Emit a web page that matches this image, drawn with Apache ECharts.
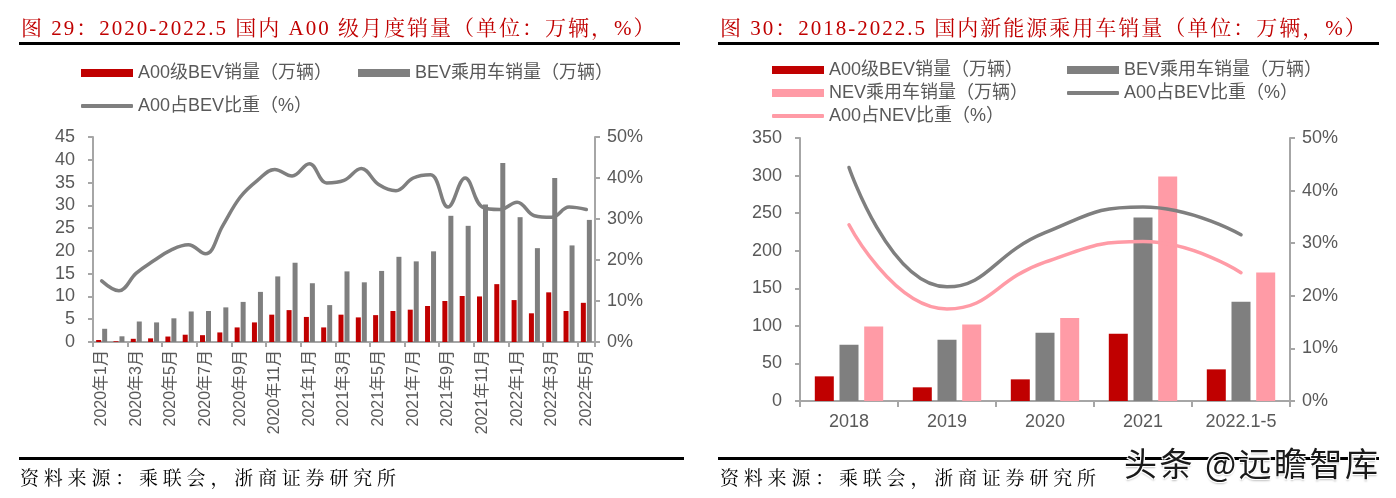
<!DOCTYPE html>
<html>
<head>
<meta charset="utf-8">
<script src="https://cdn.jsdelivr.net/npm/echarts@6/dist/echarts.min.js"></script>
<style>
  html, body { margin: 0; padding: 0; background: #fff; }
  #page { position: relative; width: 1396px; height: 498px; overflow: hidden; background: #fff; }
  .chart { position: absolute; top: 0; height: 498px; }
  .title { position: absolute; top: 15px; font-family: 'Liberation Serif', 'Noto Serif CJK SC', 'Noto Sans CJK SC', serif; font-size: 21px; line-height: 26px; color: #C00000; letter-spacing: 2px; white-space: nowrap; }
  .rule { position: absolute; height: 3px; background: #000; }
  .source { position: absolute; top: 464px; font-family: 'Noto Serif CJK SC', 'Noto Sans CJK SC', serif; font-size: 19px; line-height: 26px; color: #000; letter-spacing: 4.8px; white-space: nowrap; }
  .mark { position: absolute; left: 1124px; top: 440px; font-family: 'Noto Sans CJK SC', sans-serif; font-size: 33px; line-height: 44px; color: #1a1a1a; white-space: nowrap; letter-spacing: 2.5px;
          text-shadow: 1px 1px 0 #fff, -1px -1px 0 #fff, 1px -1px 0 #fff, -1px 1px 0 #fff, 0 2px 2px rgba(0,0,0,0.25); }
</style>
</head>
<body>
<div id="page">
  <div id="c1" class="chart" style="left:0;width:700px;"></div>
  <div id="c2" class="chart" style="left:700px;width:696px;"></div>
  <div class="title" style="left:21px;">图 29：2020-2022.5 国内 A00 级月度销量（单位：万辆，%）</div>
  <div class="rule" style="left:19px;width:661px;top:42px;"></div>
  <div class="title" style="left:720px;">图 30：2018-2022.5 国内新能源乘用车销量（单位：万辆，%）</div>
  <div class="rule" style="left:718px;width:661px;top:42px;"></div>
  <div class="rule" style="left:19px;width:665px;top:457px;"></div>
  <div class="rule" style="left:718px;width:661px;top:457px;"></div>
  <div class="source" style="left:20px;">资料来源：乘联会，浙商证券研究所</div>
  <div class="source" style="left:720px;">资料来源：乘联会，浙商证券研究所</div>
  <div class="mark">头条 @远瞻智库</div>
</div>
<script>
// ---------- Figure 29 data (monthly) ----------
const months = [
  '2020年1月','2020年2月','2020年3月','2020年4月','2020年5月','2020年6月','2020年7月','2020年8月',
  '2020年9月','2020年10月','2020年11月','2020年12月',
  '2021年1月','2021年2月','2021年3月','2021年4月','2021年5月','2021年6月','2021年7月','2021年8月',
  '2021年9月','2021年10月','2021年11月','2021年12月',
  '2022年1月','2022年2月','2022年3月','2022年4月','2022年5月'
];
const a00Monthly = [0.44, 0.16, 0.7, 0.8, 1.2, 1.6, 1.5, 2.1, 3.2, 4.3, 6.0, 7.0,
                    5.5, 3.2, 6.0, 5.4, 5.9, 6.8, 7.1, 7.9, 9.0, 10.1, 10.0, 12.7,
                    9.2, 6.3, 10.9, 6.8, 8.6];
const bevMonthly = [2.9, 1.25, 4.5, 4.3, 5.2, 6.7, 6.8, 7.6, 8.8, 11.0, 14.4, 17.4,
                    12.9, 8.1, 15.5, 13.1, 15.6, 18.7, 17.7, 19.9, 27.7, 25.5, 30.2, 39.3,
                    27.4, 20.6, 36.0, 21.2, 26.8];
const shareMonthly = [14.9, 12.5, 16.8, 19.8, 22.4, 23.7, 21.5, 28.4, 35.3, 39.4, 42.1, 40.5,
                      43.5, 38.8, 39.4, 42.3, 38.4, 36.9, 40.0, 40.8, 32.9, 40.0, 32.9, 32.3,
                      34.1, 30.8, 30.4, 32.9, 32.3];

// ---------- Figure 30 data (yearly) ----------
const years = ['2018', '2019', '2020', '2021', '2022.1-5'];
const a00Yearly = [32.8, 18.2, 28.8, 89.5, 42.1];
const bevYearly = [74.9, 81.5, 90.8, 244.1, 132.0];
const nevYearly = [99.2, 101.9, 110.3, 298.6, 171.0];
const shareBevYearly = [44.4, 21.7, 32.0, 36.9, 31.6];
const shareNevYearly = [33.5, 17.5, 26.4, 30.3, 24.4];

// ---------- names ----------
const N_A00 = 'A00级BEV销量（万辆）';
const N_BEV = 'BEV乘用车销量（万辆）';
const N_NEV = 'NEV乘用车销量（万辆）';
const N_SBEV = 'A00占BEV比重（%）';
const N_SNEV = 'A00占NEV比重（%）';

const RED = '#C00000', GRAY = '#7F7F7F', PINK = '#FF9BA6';
const AXIS = '#A6A6A6', TXT = '#595959';
const FONT = "'Liberation Sans', Arial, 'Noto Sans CJK SC', sans-serif";

function legendItem(name, left, cy, isLine) {
  const h = isLine ? 4 : 8;
  return {
    show: true, left: left, top: cy - 7, orient: 'horizontal', padding: 0,
    itemWidth: 52, itemHeight: h,
    data: [{ name: name, icon: isLine ? 'roundRect' : 'rect' }],
    textStyle: { fontFamily: FONT, fontSize: 18, color: TXT },
    selectedMode: false
  };
}

function valAxis(pos, max, interval, fmt, margin) {
  return {
    type: 'value', position: pos, min: 0, max: max, interval: interval,
    axisLine: { show: true, lineStyle: { color: AXIS, width: 2 } },
    axisTick: { show: true, length: 5, lineStyle: { color: AXIS, width: 2 } },
    splitLine: { show: false },
    axisLabel: { color: TXT, fontFamily: FONT, fontSize: 18, margin: margin, formatter: fmt }
  };
}

// ---------- chart 1 ----------
const c1 = echarts.init(document.getElementById('c1'));
c1.setOption({
  animation: false,
  legend: [
    legendItem(N_A00, 81, 71, false),
    legendItem(N_BEV, 358, 71, false),
    legendItem(N_SBEV, 81, 104, true)
  ],
  grid: { left: 93, top: 137, width: 502, height: 205 },
  xAxis: {
    type: 'category', data: months, boundaryGap: true,
    axisLine: { lineStyle: { color: AXIS, width: 2 } },
    axisTick: { show: true, interval: 1, length: 5, alignWithLabel: false, lineStyle: { color: AXIS, width: 2 } },
    axisLabel: { interval: 1, rotate: 90, color: TXT, fontFamily: FONT, fontSize: 16, margin: 8 }
  },
  yAxis: [
    valAxis('left', 45, 5, '{value}', 18),
    valAxis('right', 50, 10, '{value}%', 12)
  ],
  series: [
    { name: N_A00, type: 'bar', data: a00Monthly, barWidth: 5, barGap: '20%', itemStyle: { color: RED } },
    { name: N_BEV, type: 'bar', data: bevMonthly, barWidth: 5, barGap: '20%', itemStyle: { color: GRAY } },
    { name: N_SBEV, type: 'line', yAxisIndex: 1, data: shareMonthly, smooth: 0.4, symbol: 'none',
      lineStyle: { color: GRAY, width: 3.5, cap: 'round' }, itemStyle: { color: GRAY } }
  ]
});

// ---------- chart 2 ----------
const c2 = echarts.init(document.getElementById('c2'));
c2.setOption({
  animation: false,
  legend: [
    legendItem(N_A00, 72, 68, false),
    legendItem(N_NEV, 72, 91, false),
    legendItem(N_SNEV, 72, 114, true),
    legendItem(N_BEV, 367, 68, false),
    legendItem(N_SBEV, 367, 91, true)
  ],
  grid: { left: 100, top: 138, width: 490, height: 263 },
  xAxis: {
    type: 'category', data: years, boundaryGap: true,
    axisLine: { lineStyle: { color: AXIS, width: 2 } },
    axisTick: { show: true, length: 6, lineStyle: { color: AXIS, width: 2 } },
    axisLabel: { color: TXT, fontFamily: FONT, fontSize: 18, margin: 12 }
  },
  yAxis: [
    valAxis('left', 350, 50, '{value}', 18),
    valAxis('right', 50, 10, '{value}%', 12)
  ],
  series: [
    { name: N_A00, type: 'bar', data: a00Yearly, barWidth: 19, barGap: '30%', itemStyle: { color: RED } },
    { name: N_BEV, type: 'bar', data: bevYearly, barWidth: 19, barGap: '30%', itemStyle: { color: GRAY } },
    { name: N_NEV, type: 'bar', data: nevYearly, barWidth: 19, barGap: '30%', itemStyle: { color: PINK } },
    { name: N_SBEV, type: 'line', yAxisIndex: 1, data: shareBevYearly, smooth: 0.5, symbol: 'none',
      lineStyle: { color: GRAY, width: 3.5, cap: 'round' }, itemStyle: { color: GRAY } },
    { name: N_SNEV, type: 'line', yAxisIndex: 1, data: shareNevYearly, smooth: 0.5, symbol: 'none',
      lineStyle: { color: PINK, width: 3.5, cap: 'round' }, itemStyle: { color: PINK } }
  ]
});
</script>
</body>
</html>
